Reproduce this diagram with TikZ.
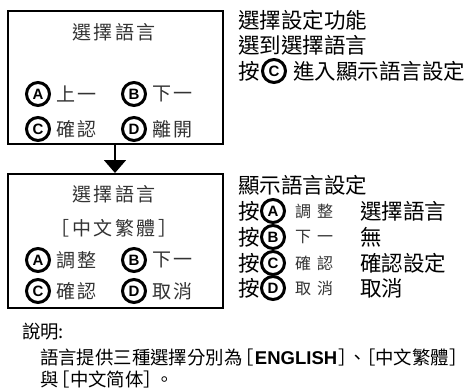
\documentclass[tikz,border=0pt]{standalone}
\usepackage{fontspec}
\usetikzlibrary{arrows.meta}
\newfontfamily\cjk{Noto Sans CJK TC}
\newfontfamily\lat{Liberation Sans}
\newcommand\chsp{\hspace{2.5pt}}
\begin{document}
\begin{tikzpicture}[x=1pt,y=-1pt,
  boxfr/.style={draw=black, line width=2.2pt},
  cl/.style={circle, draw=black, line width=3pt, minimum size=23pt, inner sep=0pt, font=\lat\bfseries\fontsize{15}{15}\selectfont},
  bt/.style={anchor=west, inner sep=0pt, font=\cjk\fontsize{19}{19}\selectfont, color=black!80},
  btc/.style={inner sep=0pt, font=\cjk\fontsize{19}{19}\selectfont, color=black!80},
  rt/.style={anchor=west, inner sep=0pt, font=\cjk\fontsize{21.5}{21.5}\selectfont},
  rs/.style={anchor=west, inner sep=0pt, font=\cjk\fontsize{16}{16}\selectfont, color=black!80},
  nt/.style={anchor=west, inner sep=0pt, font=\cjk\fontsize{18.4}{18.4}\selectfont},
]
\useasboundingbox (0,0) rectangle (469,391);
% box 1
\node[boxfr, minimum width=215pt, minimum height=133pt, anchor=north west, inner sep=0pt] (box1) at (7,10) {};
\node[btc] (t1) at (114,32) {選\chsp 擇\chsp 語\chsp 言};
\node[cl] (a1) at (38,94) {A};
\node[bt] (a1t) at (56,94) {上\chsp 一};
\node[cl] (b1) at (134,94) {B};
\node[bt] (b1t) at (152,94) {下\chsp 一};
\node[cl] (c1) at (38,129) {C};
\node[bt] (c1t) at (56,129) {確\chsp 認};
\node[cl] (d1) at (134,129) {D};
\node[bt] (d1t) at (152,129) {離\chsp 開};
% box 2
\node[boxfr, minimum width=215pt, minimum height=134pt, anchor=north west, inner sep=0pt] (box2) at (7,173) {};
\node[btc] (t2) at (114,194) {選\chsp 擇\chsp 語\chsp 言};
\node[btc] (t3) at (114,228) {［\chsp 中\chsp 文\chsp 繁\chsp 體\chsp ］};
\node[cl] (a2) at (38,260) {A};
\node[bt] (a2t) at (56,260) {調\chsp 整};
\node[cl] (b2) at (134,260) {B};
\node[bt] (b2t) at (152,260) {下\chsp 一};
\node[cl] (c2) at (38,291) {C};
\node[bt] (c2t) at (56,291) {確\chsp 認};
\node[cl] (d2) at (134,291) {D};
\node[bt] (d2t) at (152,291) {取\chsp 消};
% arrow
\draw[line width=1.8pt, -{Triangle[width=22pt,length=13pt]}] (box1.south -| 115,0) -- (box2.north -| 115,0);
% right text 1
\node[rt] (r1) at (238,20) {選擇設定功能};
\node[rt] (r2) at (238,45) {選到選擇語言};
\node[rt] (r3) at (238,71) {按};
\node[cl] (r3c) at (274,71) {C};
\node[rt] (r3t) at (293,71) {進入顯示語言設定};
% right text 2
\node[rt] (s0) at (238,185) {顯示語言設定};
\node[rt] (s1) at (238,211) {按};
\node[cl] (s1c) at (273,211) {A};
\node[rs] (s1t) at (295,211) {調\hspace{6pt}整};
\node[rt] (s1v) at (360,211) {選擇語言};
\node[rt] (s2) at (238,237) {按};
\node[cl] (s2c) at (273,237) {B};
\node[rs] (s2t) at (295,237) {下\hspace{6pt}一};
\node[rt] (s2v) at (360,237) {無};
\node[rt] (s3) at (238,263) {按};
\node[cl] (s3c) at (273,263) {C};
\node[rs] (s3t) at (295,263) {確\hspace{6pt}認};
\node[rt] (s3v) at (360,263) {確認設定};
\node[rt] (s4) at (238,288) {按};
\node[cl] (s4c) at (273,288) {D};
\node[rs] (s4t) at (295,288) {取\hspace{6pt}消};
\node[rt] (s4v) at (360,288) {取消};
% notes
\node[nt] (n1) at (22,332) {說明:};
\node[nt] (n2) at (40,357) {語言提供三種選擇分別為\kern-7pt［\kern1pt{\lat\bfseries\fontsize{18.5}{18.5}\selectfont ENGLISH}\kern1pt］\kern-8pt、\kern-10pt［中文繁體］};
\node[nt] (n3) at (40,379) {與\kern-7pt［中文简体］\kern-7pt 。};
\end{tikzpicture}
\end{document}
